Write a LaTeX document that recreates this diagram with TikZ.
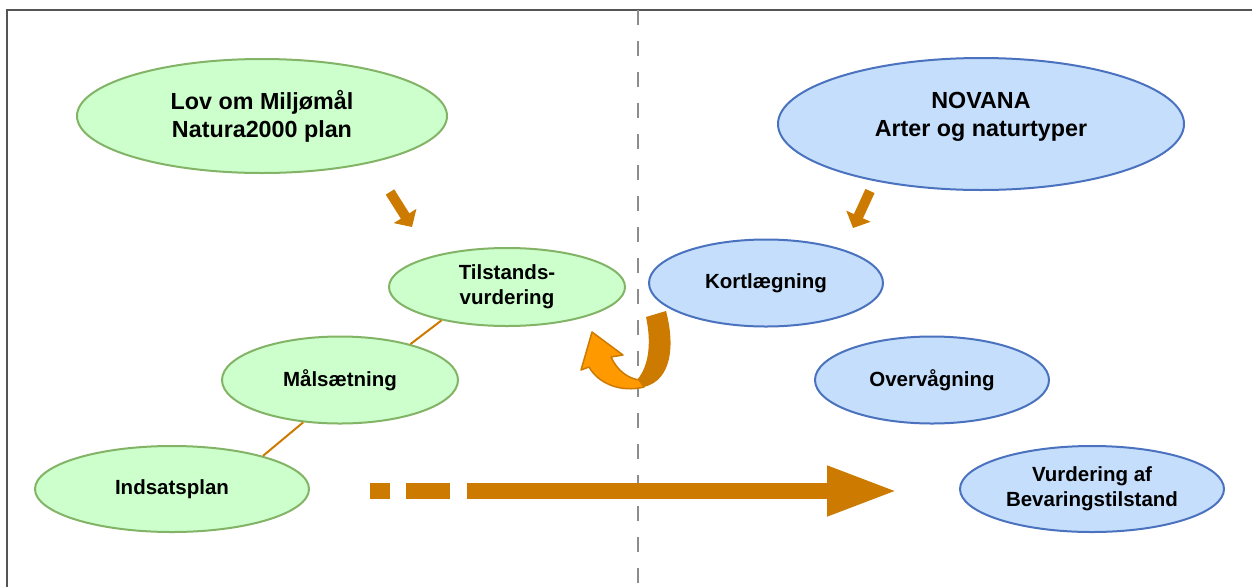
\documentclass[tikz,border=0pt]{standalone}
\usepackage{fontspec}
\setmainfont{Liberation Sans}
\usetikzlibrary{arrows.meta,shapes.geometric}
\definecolor{gfill}{HTML}{CCFFCC}
\definecolor{gline}{HTML}{82B366}
\definecolor{bfill}{HTML}{C4DEFB}
\definecolor{bline}{HTML}{4A72BE}
\definecolor{darkor}{HTML}{CC7A00}
\definecolor{lightor}{HTML}{FF9900}
\definecolor{framec}{HTML}{555555}
\definecolor{dashc}{HTML}{8C8C8C}
\tikzset{
  ell/.style={ellipse, line width=2pt, inner sep=0pt, align=center},
  gell/.style={ell, draw=gline, fill=gfill},
  bell/.style={ell, draw=bline, fill=bfill},
  bigtxt/.style={font=\bfseries\fontsize{23.3}{28}\selectfont},
  smalltxt/.style={font=\bfseries\fontsize{20.5}{25}\selectfont},
  link/.style={draw=darkor, line width=2pt},
  blockarrow/.style={draw=darkor, line width=10pt, -{Triangle[length=13pt,width=26pt]}},
}
\begin{document}
\begin{tikzpicture}[x=1pt,y=-1pt]
\useasboundingbox (0,0) rectangle (1252,587);
% frame
\draw[framec, line width=1.5pt] (7,587) -- (7,10) -- (1252,10);
\draw[dashc, line width=2pt, dash pattern=on 15pt off 16pt] (638,10) -- (638,587);

% nodes
\node[gell, bigtxt, minimum width=370pt, minimum height=114pt] (lov) at (262,116) {Lov om Miljømål\\Natura2000 plan};
\node[bell, minimum width=406pt, minimum height=132pt,
  label={[bigtxt, align=center, yshift=7pt]center:{NOVANA\\Arter og naturtyper}}] (novana) at (981,124) {};
\node[gell, smalltxt, minimum width=236pt, minimum height=78pt] (tils) at (507,287) {Tilstands-\\vurdering};
\node[bell, smalltxt, minimum width=234pt, minimum height=87pt] (kort) at (766,283) {Kortlægning};
\node[gell, smalltxt, minimum width=236pt, minimum height=87pt] (mal) at (340,380) {Målsætning};
\node[bell, smalltxt, minimum width=234pt, minimum height=87pt] (overv) at (932,380) {Overvågning};
\node[gell, smalltxt, minimum width=274pt, minimum height=86pt] (inds) at (172,489) {Indsatsplan};
\node[bell, smalltxt, minimum width=264pt, minimum height=86pt] (vurd) at (1092,489) {Vurdering af\\Bevaringstilstand};

% links
\draw[link] (tils.207) -- (mal.27);
\draw[link] (mal.229) -- (inds.20);

% small block arrows
\coordinate (a1s) at (390,192);
\coordinate (a1e) at (412,227);
\coordinate (a2s) at (870,191);
\coordinate (a2e) at (853,228);
\draw[blockarrow] (a1s) -- (a1e);
\draw[blockarrow] (a2s) -- (a2e);

% big dashed arrow
\coordinate (ba1) at (370,491);
\coordinate (ba2) at (390,491);
\coordinate (ba3) at (406,491);
\coordinate (ba4) at (450,491);
\coordinate (ba5) at (467,491);
\coordinate (ba6) at (898,491);
\draw[darkor, line width=16pt] (ba1) -- (ba2);
\draw[darkor, line width=16pt] (ba3) -- (ba4);
\draw[darkor, line width=16pt, -{Triangle[length=71pt,width=46pt]}] (ba5) -- (ba6);

% curved u-turn arrow
\fill[darkor] (666,311) .. controls (675,345) and (672,380) .. (644,387)
  -- (637,380) .. controls (650,365) and (651,340) .. (646,317) -- cycle;
\filldraw[fill=lightor, draw=darkor, line width=1.5pt, line join=round]
  (644,387) .. controls (620,393) and (598,383) .. (589,367)
  -- (581,370) -- (592,332) -- (623,355) -- (611,357)
  .. controls (617,370) and (627,378) .. (639,380) -- cycle;
\end{tikzpicture}
\end{document}
